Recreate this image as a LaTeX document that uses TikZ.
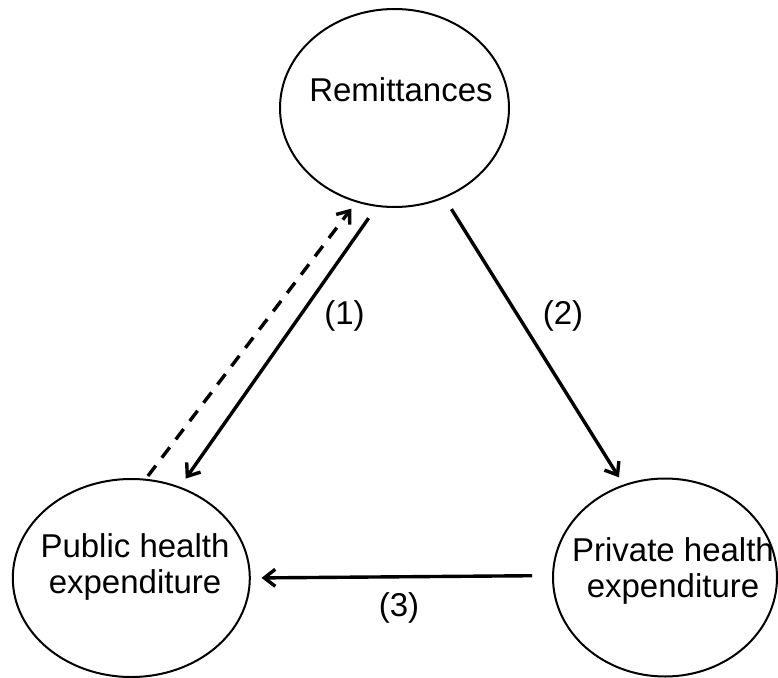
\documentclass[tikz,border=0pt]{standalone}
\usepackage{fontspec}
\setmainfont{Liberation Sans}
\usetikzlibrary{arrows.meta,shapes.geometric}
\begin{document}
\begin{tikzpicture}[x=1pt,y=-1pt,
  bubble/.style={draw=black, line width=2pt, ellipse, inner sep=0pt, outer sep=0pt},
  caption/.style={font=\fontsize{33}{36}\selectfont, align=center, inner sep=0pt},
  tag/.style={font=\fontsize{33}{36}\selectfont, inner sep=0pt},
  link/.style={line width=3.4pt, -{Straight Barb[length=11pt,width=17pt]}},
]
\useasboundingbox (0,0) rectangle (778,677);

% the three variables
\node[bubble, minimum width=229pt, minimum height=198pt] (rem)  at (394.5,108) {};
\node[bubble, minimum width=237pt, minimum height=198pt] (pub)  at (131.3,578) {};
\node[bubble, minimum width=224pt, minimum height=198pt] (priv) at (665,577.5) {};

\node[caption] (remtxt)  at (401,90)    {Remittances};
\node[caption] (pubtxt)  at (135,567)   {Public health\\expenditure};
\node[caption] (privtxt) at (673,570.5) {Private health\\expenditure};

% causal links
\draw[link, shorten <=15pt, shorten >=11pt] (rem.260.2) -- (pub.62.7);
\draw[link, dash pattern=on 13pt off 10pt, shorten <=4.6pt, shorten >=9pt] (pub.82.4) -- (rem.248);
\draw[link, shorten <=14pt, shorten >=9.5pt] (rem.299.5) -- (priv.114.1);
\draw[link, shorten <=21pt, shorten >=11.7pt] (priv.179.4) -- (pub.0.9);

% link numbers
\node[tag] (n1) at (344.5,316) {(1)};
\node[tag] (n2) at (563,316)   {(2)};
\node[tag] (n3) at (399,607.5) {(3)};
\end{tikzpicture}
\end{document}
